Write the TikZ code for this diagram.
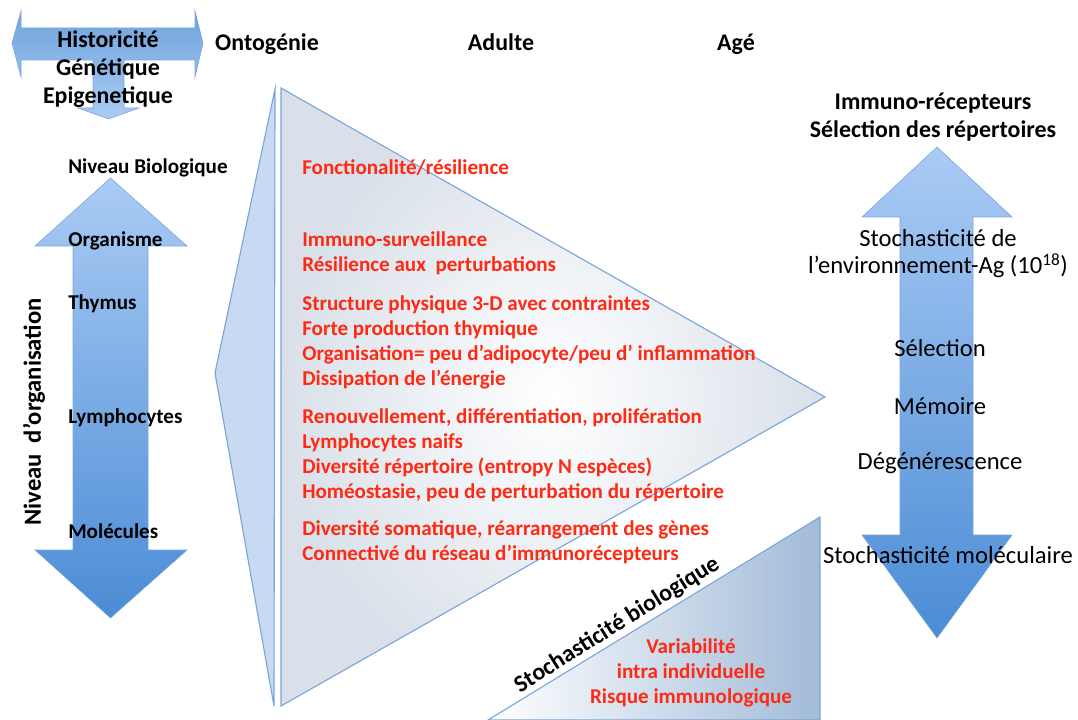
\documentclass[tikz,border=0pt]{standalone}
\usepackage{fontspec}
\setmainfont{Carlito}
\usepackage{tikz}

\definecolor{arrowLight}{HTML}{AACBF4}
\definecolor{arrowDark}{HTML}{4B8CD5}
\definecolor{edgeBlue}{HTML}{7AA5DA}
\definecolor{wedgeBlue}{HTML}{C7DAF1}
\definecolor{triGrey}{HTML}{D9E0E9}
\definecolor{stochBlue}{HTML}{A2BBD8}
\definecolor{findRed}{HTML}{FF2A14}

\begin{document}
\begin{tikzpicture}[
        x=0.025cm, y=-0.025cm,
        bigarrow/.style={draw=edgeBlue, line width=0.4pt, top color=arrowLight, bottom color=arrowDark},
        wedge/.style={draw=edgeBlue, line width=0.8pt, fill=wedgeBlue},
        title/.style={inner sep=0pt, font=\bfseries\fontsize{17}{20}\selectfont, align=center},
        level/.style={inner sep=0pt, anchor=west, font=\bfseries\fontsize{15}{18}\selectfont},
        plain/.style={inner sep=0pt, font=\fontsize{17.5}{19.2}\selectfont, align=center},
        finding/.style={inner sep=0pt, anchor=west, align=left, text=findRed, font=\bfseries\fontsize{15}{17.8}\selectfont}
    ]
        \useasboundingbox (0,0) rectangle (1078,720);

        % Shapes
        \shadedraw[draw=edgeBlue, line width=0.4pt, top color=arrowDark!80!white, bottom color=arrowLight]
            (12,43) -- (21,11) -- (21,28) -- (195,28) -- (195,11) -- (203,43) -- (195,77) -- (195,60)
            -- (124,60) -- (124,108) -- (139,108) -- (108.5,119) -- (78,108) -- (93,108) -- (93,60)
            -- (21,60) -- (21,77) -- cycle;
        \shadedraw[bigarrow] (110.5,178) -- (187,246) -- (148,246) -- (148,550) -- (187,550) -- (110.5,618)
            -- (35,550) -- (73,550) -- (73,246) -- (35,246) -- cycle;
        \shadedraw[bigarrow] (937,147) -- (1012,217) -- (973,217) -- (973,535) -- (1012,535) -- (937,638)
            -- (862,535) -- (900,535) -- (900,217) -- (862,217) -- cycle;
        \draw[wedge] (275,89) -- (215,373) -- (274,706) -- cycle;
        \shadedraw[draw=edgeBlue, line width=0.8pt, inner color=white, outer color=triGrey]
            (281,88) -- (825,397) -- (281,706) -- cycle;
        \shadedraw[draw=edgeBlue, line width=0.8pt, left color=white, right color=stochBlue]
            (820,517) -- (820,720) -- (488,720) -- cycle;

        % Headers
        \node[title] (historicite) at (108,69) {Historicité\\Génétique\\Epigenetique};
        \node[title, anchor=base] (ontogenie) at (267,51) {Ontogénie};
        \node[title, anchor=base] (adulte) at (501,51) {Adulte};
        \node[title, anchor=base] (age) at (736,51) {Agé};
        \node[title] (recepteurs) at (933,117) {Immuno-récepteurs\\Sélection des répertoires};

        % Levels
        \node[level] (niveauBio) at (68,168) {Niveau Biologique};
        \node[level] (organisme) at (68,241) {Organisme};
        \node[level] (thymus) at (68,304) {Thymus};
        \node[level] (lymphocytes) at (68,418) {Lymphocytes};
        \node[level] (molecules) at (68,531) {Molécules};
        \node[title, rotate=90, font=\bfseries\fontsize{17.5}{20}\selectfont] (niveauOrg) at (34,412) {Niveau\ \ d’organisation};

        % Findings
        \node[finding] (fonction) at (302,168) {Fonctionalité/résilience};
        \node[finding] (surveillance) at (302,253.5) {Immuno-surveillance\\Résilience aux\ \ perturbations};
        \node[finding] (structure) at (302,342) {Structure physique 3-D avec contraintes\\Forte production thymique\\Organisation= peu d’adipocyte/peu d’ inflammation\\Dissipation de l’énergie};
        \node[finding] (renouvellement) at (302,455) {Renouvellement, différentiation, prolifération\\Lymphocytes naifs\\Diversité répertoire (entropy N espèces)\\Homéostasie, peu de perturbation du répertoire};
        \node[finding] (somatique) at (302,542.5) {Diversité somatique, réarrangement des gènes\\Connectivé du réseau d’immunorécepteurs};

        % Stochasticity
        \node[title, rotate=32] (stochBio) at (617,625) {Stochasticité biologique};
        \node[finding, anchor=center, align=center] (variabilite) at (691,673) {Variabilité\\intra individuelle\\Risque immunologique};
        \node[plain] (environnement) at (938,254) {Stochasticité de\\l’environnement-Ag (10\textsuperscript{18})};
        \node[plain] (selection) at (940,348) {Sélection};
        \node[plain] (memoire) at (940,406) {Mémoire};
        \node[plain] (degenerescence) at (940,463) {Dégénérescence};
        \node[plain] (stochMol) at (948,555) {Stochasticité moléculaire};
    \end{tikzpicture}
\end{document}
